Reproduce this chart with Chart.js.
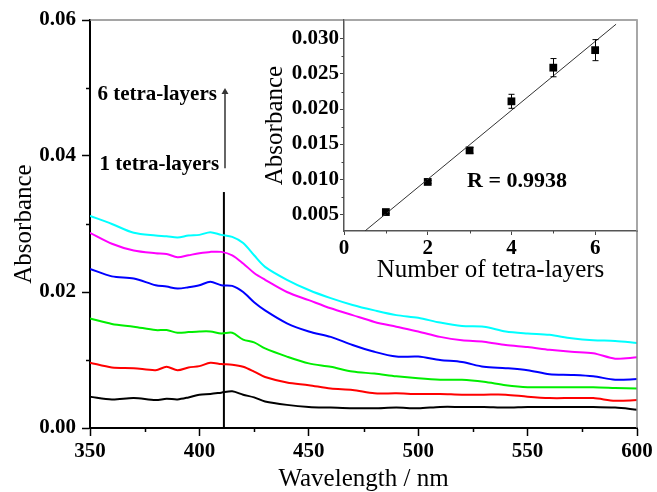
<!DOCTYPE html>
<html>
<head>
<meta charset="utf-8">
<script src="https://cdn.jsdelivr.net/npm/chart.js@4.4.1/dist/chart.umd.min.js"></script>
<style>
  html, body { margin: 0; padding: 0; background: #fff; overflow: hidden; }
  #wrap { position: relative; width: 657px; height: 492px; }
  #main { position: absolute; left: 0; top: 0; }
  #inset { position: absolute; left: 240px; top: 0; }
</style>
</head>
<body>
<div id="wrap">
  <canvas id="main" width="657" height="500"></canvas>
  <canvas id="inset" width="417" height="290"></canvas>
</div>
<script>
// ── DATA: spectra ──────────────────────────────────────────
const wavelengths = [350, 360, 370, 380, 385, 390, 395, 400, 405, 410, 415, 420, 425, 430, 440, 450,
                     460, 470, 480, 490, 500, 510, 520, 530, 540, 550, 560, 570, 580, 590, 600];
const layers1 = [0.0046, 0.0042, 0.0044, 0.0041, 0.0043, 0.0042, 0.0045, 0.0049, 0.0050, 0.0052, 0.0054, 0.0049, 0.0045, 0.0039, 0.0034, 0.0031,
                 0.0030, 0.0029, 0.0029, 0.0030, 0.0029, 0.0031, 0.0031, 0.0031, 0.0030, 0.0031, 0.0031, 0.0031, 0.0031, 0.0030, 0.0027];
const layers2 = [0.0096, 0.0089, 0.0088, 0.0085, 0.0090, 0.0085, 0.0089, 0.0091, 0.0096, 0.0094, 0.0093, 0.0090, 0.0083, 0.0075, 0.0067, 0.0063,
                 0.0058, 0.0056, 0.0051, 0.0051, 0.0050, 0.0050, 0.0049, 0.0049, 0.0049, 0.0046, 0.0044, 0.0044, 0.0044, 0.0040, 0.0041];
const layers3 = [0.0161, 0.0153, 0.0149, 0.0144, 0.0144, 0.0140, 0.0141, 0.0142, 0.0142, 0.0139, 0.0140, 0.0130, 0.0126, 0.0117, 0.0105, 0.0095,
                 0.0090, 0.0083, 0.0080, 0.0076, 0.0073, 0.0071, 0.0071, 0.0068, 0.0063, 0.0060, 0.0060, 0.0060, 0.0060, 0.0059, 0.0058];
const layers4 = [0.0234, 0.0223, 0.0220, 0.0210, 0.0208, 0.0205, 0.0207, 0.0210, 0.0215, 0.0210, 0.0209, 0.0200, 0.0185, 0.0173, 0.0154, 0.0142,
                 0.0134, 0.0122, 0.0112, 0.0105, 0.0105, 0.0100, 0.0097, 0.0090, 0.0088, 0.0085, 0.0079, 0.0078, 0.0076, 0.0071, 0.0072];
const layers5 = [0.0287, 0.0271, 0.0261, 0.0257, 0.0256, 0.0251, 0.0254, 0.0257, 0.0259, 0.0259, 0.0254, 0.0242, 0.0228, 0.0218, 0.0200, 0.0188,
                 0.0176, 0.0166, 0.0156, 0.0149, 0.0142, 0.0134, 0.0129, 0.0127, 0.0122, 0.0119, 0.0115, 0.0112, 0.0110, 0.0102, 0.0104];
const layers6 = [0.0312, 0.0300, 0.0287, 0.0283, 0.0282, 0.0280, 0.0283, 0.0284, 0.0288, 0.0284, 0.0281, 0.0272, 0.0254, 0.0237, 0.0218, 0.0203,
                 0.0191, 0.0181, 0.0173, 0.0166, 0.0162, 0.0155, 0.0150, 0.0149, 0.0142, 0.0139, 0.0137, 0.0132, 0.0129, 0.0128, 0.0125];
const spectra = [layers1, layers2, layers3, layers4, layers5, layers6];
const spectraColors = ['#000000', '#ff0000', '#00ee00', '#0000ff', '#ff00ff', '#00ffff'];

const xTicksMain = [350, 400, 450, 500, 550, 600];
const xMinorMain = [375, 425, 475, 525, 575];
const yTicksMain = [0, 0.02, 0.04, 0.06];
const yMinorMain = [0.01, 0.03, 0.05];

const markerLine = [[411.2, 0], [411.2, 0.0347]];
const arrowLine = [[411.7, 0.0382], [411.7, 0.0494]];

// ── DATA: inset ────────────────────────────────────────────
const layerCount = [1, 2, 3, 4, 5, 6];
const layerAbs = [0.0053, 0.0096, 0.0141, 0.0211, 0.0259, 0.0284];
const layerErr = [0.0002, 0.0002, 0.0004, 0.0010, 0.0013, 0.0015];
const fitLine = [[0.5, 0.0026], [6.5, 0.0321]];
const xTicksInset = [0, 2, 4, 6];
const xMinorInset = [1, 3, 5];
const yTicksInset = [0.005, 0.010, 0.015, 0.020, 0.025, 0.030];
const yMinorInset = [0.0075, 0.0125, 0.0175, 0.0225, 0.0275];

const serif = "'Liberation Serif', 'Times New Roman', serif";
const toXY = pts => pts.map(p => ({ x: p[0], y: p[1] }));

// ── PLUGINS ────────────────────────────────────────────────
const axisExtras = {
  id: 'axisExtras',
  afterDraw(chart, args, opts) {
    const { ctx, chartArea: a, scales: { x, y } } = chart;
    ctx.save();
    ctx.strokeStyle = opts.frameColor;
    ctx.lineWidth = opts.frameWidth;
    ctx.beginPath();
    ctx.moveTo(a.left, a.top);
    ctx.lineTo(a.right, a.top);
    ctx.lineTo(a.right, a.bottom);
    ctx.stroke();

    ctx.strokeStyle = opts.tickColor;
    ctx.lineWidth = opts.tickWidth;
    ctx.beginPath();
    opts.xMinor.forEach(v => {
      const px = Math.round(x.getPixelForValue(v)) + 0.5;
      ctx.moveTo(px, a.bottom);
      ctx.lineTo(px, a.bottom + opts.minorLen);
    });
    opts.yMinor.forEach(v => {
      const py = Math.round(y.getPixelForValue(v)) + 0.5;
      ctx.moveTo(a.left, py);
      ctx.lineTo(a.left - opts.minorLen, py);
    });
    ctx.stroke();
    ctx.restore();
  }
};

const mainLabels = {
  id: 'mainLabels',
  afterDatasetsDraw(chart) {
    const { ctx, scales: { x, y } } = chart;
    ctx.save();
    ctx.fillStyle = '#000';
    ctx.font = 'bold 21px ' + serif;
    ctx.textAlign = 'right';
    ctx.textBaseline = 'alphabetic';
    ctx.fillText('6 tetra-layers', x.getPixelForValue(408), y.getPixelForValue(0.0482));
    ctx.fillText('1 tetra-layers', x.getPixelForValue(409), y.getPixelForValue(0.0379));
    ctx.restore();
  }
};

const insetExtras = {
  id: 'insetExtras',
  afterDatasetsDraw(chart) {
    const { ctx, scales: { x, y } } = chart;
    ctx.save();
    ctx.strokeStyle = '#000';
    ctx.lineWidth = 1;
    layerCount.forEach((n, i) => {
      const px = Math.round(x.getPixelForValue(n)) + 0.5;
      const top = y.getPixelForValue(layerAbs[i] + layerErr[i]);
      const bot = y.getPixelForValue(layerAbs[i] - layerErr[i]);
      ctx.beginPath();
      ctx.moveTo(px, top); ctx.lineTo(px, bot);
      ctx.moveTo(px - 3, top); ctx.lineTo(px + 3, top);
      ctx.moveTo(px - 3, bot); ctx.lineTo(px + 3, bot);
      ctx.stroke();
    });
    ctx.fillStyle = '#000';
    ctx.font = 'bold 22px ' + serif;
    ctx.textAlign = 'left';
    ctx.textBaseline = 'alphabetic';
    ctx.fillText('R = 0.9938', x.getPixelForValue(2.94), y.getPixelForValue(0.00886));
    ctx.restore();
  }
};

// ── MAIN CHART ─────────────────────────────────────────────
const mainDatasets = spectra.map((vals, i) => ({
  data: wavelengths.map((w, j) => ({ x: w, y: vals[j] })),
  borderColor: spectraColors[i],
  borderWidth: 2,
  pointRadius: 0,
  tension: 0.3,
}));
mainDatasets.push({
  data: toXY(markerLine),
  borderColor: '#000',
  borderWidth: 2,
  pointRadius: 0,
});
mainDatasets.push({
  data: toXY(arrowLine),
  borderColor: '#333',
  backgroundColor: '#333',
  borderWidth: 1.5,
  pointStyle: 'triangle',
  pointRadius: [0, 4],
  pointBorderWidth: 0,
});

new Chart(document.getElementById('main'), {
  type: 'line',
  data: { datasets: mainDatasets },
  plugins: [axisExtras, mainLabels],
  options: {
    responsive: false,
    animation: false,
    events: [],
    layout: { padding: { left: 0, right: 20, top: 20, bottom: 0 } },
    plugins: {
      legend: { display: false },
      tooltip: { enabled: false },
      axisExtras: { frameColor: '#888', frameWidth: 1.5, tickColor: '#000', tickWidth: 1.5, minorLen: 4, xMinor: xMinorMain, yMinor: yMinorMain },
    },
    scales: {
      x: {
        type: 'linear', min: 350, max: 600,
        afterBuildTicks: s => { s.ticks = xTicksMain.map(v => ({ value: v })); },
        afterFit: s => { s.height = 72; },
        grid: { drawOnChartArea: false, drawTicks: true, tickLength: 8, tickWidth: 1.5, tickColor: '#000' },
        border: { color: '#000', width: 2 },
        ticks: { color: '#000', padding: 3, autoSkip: false, maxRotation: 0, font: { family: serif, size: 21, weight: 'bold' } },
        title: { display: true, text: 'Wavelength / nm', color: '#000', padding: { top: 0, bottom: 6 }, font: { family: serif, size: 25 } },
      },
      y: {
        type: 'linear', min: 0, max: 0.06,
        afterBuildTicks: s => { s.ticks = yTicksMain.map(v => ({ value: v })); },
        afterFit: s => { s.width = 90; },
        grid: { drawOnChartArea: false, drawTicks: true, tickLength: 8, tickWidth: 1.5, tickColor: '#000' },
        border: { color: '#000', width: 2 },
        ticks: { color: '#000', padding: 6, callback: v => v.toFixed(2), font: { family: serif, size: 21, weight: 'bold' } },
        title: { display: true, text: 'Absorbance', color: '#000', padding: { top: 9, bottom: 0 }, font: { family: serif, size: 25 } },
      },
    },
  },
});

// ── INSET CHART ────────────────────────────────────────────
new Chart(document.getElementById('inset'), {
  type: 'scatter',
  data: {
    datasets: [
      {
        data: toXY(fitLine),
        showLine: true,
        borderColor: '#333',
        borderWidth: 1,
        pointRadius: 0,
      },
      {
        data: layerCount.map((n, i) => ({ x: n, y: layerAbs[i] })),
        pointStyle: 'rect',
        pointRadius: 5.5,
        pointBorderWidth: 0,
        backgroundColor: '#000',
        borderColor: '#000',
      },
    ],
  },
  plugins: [axisExtras, insetExtras],
  options: {
    responsive: false,
    animation: false,
    events: [],
    layout: { padding: { left: 0, right: 20, top: 20, bottom: 0 } },
    plugins: {
      legend: { display: false },
      tooltip: { enabled: false },
      axisExtras: { frameColor: '#aaa', frameWidth: 1.2, tickColor: '#444', tickWidth: 1, minorLen: 2.5, xMinor: xMinorInset, yMinor: yMinorInset },
    },
    scales: {
      x: {
        type: 'linear', min: 0, max: 7,
        afterBuildTicks: s => { s.ticks = xTicksInset.map(v => ({ value: v })); },
        afterFit: s => { s.height = 59; },
        grid: { drawOnChartArea: false, drawTicks: true, tickLength: 4, tickWidth: 1, tickColor: '#444' },
        border: { color: '#555', width: 1.5 },
        ticks: { color: '#000', padding: 1, autoSkip: false, maxRotation: 0, font: { family: serif, size: 21, weight: 'bold' } },
        title: { display: true, text: 'Number of tetra-layers', color: '#000', padding: { top: 0, bottom: 5 }, font: { family: serif, size: 25 } },
      },
      y: {
        type: 'linear', min: 0.0026, max: 0.0327,
        afterBuildTicks: s => { s.ticks = yTicksInset.map(v => ({ value: v })); },
        afterFit: s => { s.width = 104; },
        grid: { drawOnChartArea: false, drawTicks: true, tickLength: 4, tickWidth: 1, tickColor: '#444' },
        border: { color: '#555', width: 1.5 },
        ticks: { color: '#000', padding: 1, callback: v => v.toFixed(3), font: { family: serif, size: 21, weight: 'bold' } },
        title: { display: true, text: 'Absorbance', color: '#000', padding: { top: 20, bottom: 0 }, font: { family: serif, size: 25 } },
      },
    },
  },
});
</script>
</body>
</html>
